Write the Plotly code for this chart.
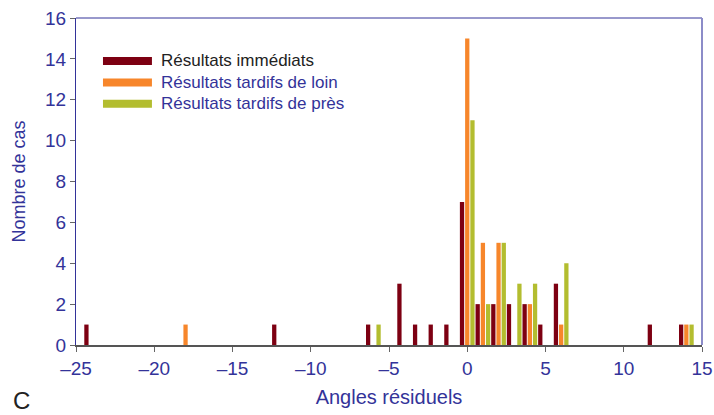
import plotly.graph_objects as go

# Data
angles = [-24, -18, -12, -6, -4, -3, -2, -1, 0, 1, 2, 3, 4, 5, 6, 12, 14]
immediats = [1, 0, 1, 1, 3, 1, 1, 1, 7, 2, 2, 2, 2, 1, 3, 1, 1]
tardifs_loin = [0, 1, 0, 0, 0, 0, 0, 0, 15, 5, 5, 0, 2, 0, 1, 0, 1]
tardifs_pres = [0, 0, 0, 1, 0, 0, 0, 0, 11, 2, 5, 3, 3, 0, 4, 0, 1]

series_names = ["Résultats immédiats", "Résultats tardifs de loin", "Résultats tardifs de près"]
series_values = [immediats, tardifs_loin, tardifs_pres]
series_colors = ["#7d0012", "#f7862b", "#b3bd2f"]
legend_text_colors = ["#222222", "#333399", "#333399"]

x_ticks = [-25, -20, -15, -10, -5, 0, 5, 10, 15]
x_tick_labels = ["–25", "–20", "–15", "–10", "–5", "0", "5", "10", "15"]
y_ticks = [0, 2, 4, 6, 8, 10, 12, 14, 16]

BLUE = "#333399"
FONT = "Liberation Sans, Arial, sans-serif"

fig = go.Figure()
for name, vals, col in zip(series_names, series_values, series_colors):
    fig.add_trace(go.Bar(x=angles, y=vals, name=name, marker=dict(color=col, line=dict(width=0)),
                         showlegend=False))

# plot-area geometry in pixels (for manual legend)
L, R, T, B = 76, 11.5, 18, 69.5
W, H = 714, 415
pw, ph = W - L - R, H - T - B

def px2paper_x(px):
    return (px - L) / pw

def px2paper_y(py):
    return (H - B - py) / ph

shapes = []
annotations = []
rows_y = [61, 82.5, 104]
for name, col, tcol, ry in zip(series_names, series_colors, legend_text_colors, rows_y):
    shapes.append(dict(type="rect", xref="paper", yref="paper",
                       x0=px2paper_x(103), x1=px2paper_x(152),
                       y0=px2paper_y(ry + 4), y1=px2paper_y(ry - 4),
                       fillcolor=col, line=dict(width=0)))
    annotations.append(dict(text=name, xref="paper", yref="paper",
                            x=px2paper_x(159), y=px2paper_y(ry), xanchor="left", yanchor="middle",
                            showarrow=False, font=dict(size=17, color=tcol, family=FONT)))

# top and right frame lines
shapes.append(dict(type="line", xref="paper", yref="paper", x0=0, x1=1, y0=1, y1=1,
                   line=dict(color=BLUE, width=1)))
shapes.append(dict(type="line", xref="paper", yref="paper", x0=1, x1=1, y0=0, y1=1,
                   line=dict(color="#8c8cc8", width=2)))

annotations.append(dict(text="C", xref="paper", yref="paper", x=px2paper_x(21), y=px2paper_y(401),
                        xanchor="center", yanchor="middle", showarrow=False,
                        font=dict(size=24, color="#222222", family=FONT)))

fig.update_layout(
    width=W, height=H,
    margin=dict(l=L, r=R, t=T, b=B, autoexpand=False),
    paper_bgcolor="white", plot_bgcolor="white",
    barmode="group", bargap=0, bargroupgap=0.18,
    font=dict(family=FONT, color=BLUE),
    shapes=shapes, annotations=annotations,
    xaxis=dict(range=[-25, 15], tickvals=x_ticks, ticktext=x_tick_labels, automargin=False,
               showgrid=False, zeroline=False, showline=True, linecolor="#555555", linewidth=1.5,
               ticks="outside", ticklen=5, tickcolor="#666666",
               tickfont=dict(size=19, color=BLUE, family=FONT),
               title=dict(text="Angles résiduels", font=dict(size=20, color=BLUE, family=FONT), standoff=12)),
    yaxis=dict(range=[0, 16], tickvals=y_ticks, automargin=False,
               showgrid=False, zeroline=False, showline=True, linecolor=BLUE, linewidth=1,
               ticks="outside", ticklen=5, tickcolor="#666666",
               tickfont=dict(size=19, color=BLUE, family=FONT),
               title=dict(text="Nombre de cas", font=dict(size=18, color=BLUE, family=FONT), standoff=14)),
)

fig.write_html("out.html", config={"displayModeBar": False},
               post_script="document.body.style.margin='0';document.body.style.overflow='hidden';")
